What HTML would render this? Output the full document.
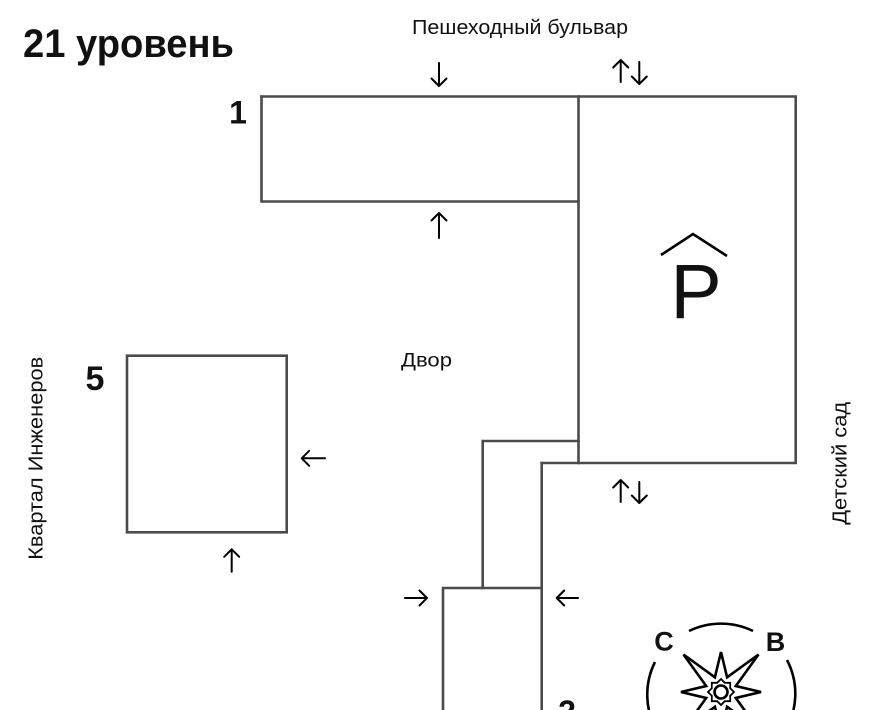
<!DOCTYPE html>
<html>
<head>
<meta charset="utf-8">
<style>
  html, body { margin: 0; padding: 0; background: #ffffff; }
  body { width: 870px; height: 710px; overflow: hidden; }
  svg { display: block; }
  .lbl { font-family: "Liberation Sans", "Noto Sans CJK SC", sans-serif; fill: #111; }
</style>
</head>
<body>
<svg width="870" height="710" viewBox="0 0 870 710" xmlns="http://www.w3.org/2000/svg">
  <rect width="870" height="710" fill="#fff"/>

  <!-- Title -->
  <text class="lbl" x="23" y="57" font-size="40" font-weight="bold" textLength="211" lengthAdjust="spacingAndGlyphs">21 уровень</text>

  <!-- Street labels -->
  <text class="lbl" x="412" y="34" font-size="20" textLength="216" lengthAdjust="spacingAndGlyphs">Пешеходный бульвар</text>
  <text class="lbl" x="401" y="366.5" font-size="19" textLength="51" lengthAdjust="spacingAndGlyphs">Двор</text>
  <text class="lbl" font-size="20" text-anchor="middle" textLength="203" lengthAdjust="spacingAndGlyphs" transform="translate(42.7,458.3) rotate(-90)">Квартал Инженеров</text>
  <text class="lbl" font-size="20" text-anchor="middle" textLength="123" lengthAdjust="spacingAndGlyphs" transform="translate(846.7,463.3) rotate(-90)">Детский сад</text>

  <!-- Building numbers -->
  <text class="lbl" x="238" y="123.3" font-size="32" font-weight="bold" text-anchor="middle">1</text>
  <text class="lbl" x="95" y="390" font-size="34" font-weight="bold" text-anchor="middle">5</text>
  <text class="lbl" x="567" y="723" font-size="32" font-weight="bold" text-anchor="middle">2</text>

  <!-- Buildings -->
  <g fill="none" stroke="#4b4b4b" stroke-width="2.6" stroke-linecap="square">
    <path d="M261.5 96.5 H795.7 V463 H541.7"/>
    <path d="M261.5 96.5 V201.5 H578.5"/>
    <path d="M578.5 96.5 V463"/>
    <path d="M578.5 441 H482.7 V588"/>
    <path d="M541.7 463 V720"/>
    <path d="M443 720 V588 H541.7"/>
    <rect x="127" y="355.7" width="159.7" height="176.6"/>
  </g>

  <!-- Parking sign -->
  <text class="lbl" x="696" y="318" font-size="77" text-anchor="middle" fill="#000">P</text>
  <polyline points="661,255 693,234 727,256" fill="none" stroke="#000" stroke-width="2.6"/>

  <!-- Arrows -->
  <g fill="none" stroke="#000" stroke-width="2" stroke-linecap="round" stroke-linejoin="round">
    <path d="M439 63 V86 M431.5 78.5 L439 86 L446.5 78.5"/>
    <path d="M620.7 82 V60 M613.2 67.5 L620.7 60 L628.2 67.5"/>
    <path d="M639.3 62 V84 M631.8 76.5 L639.3 84 L646.8 76.5"/>
    <path d="M439 238 V213 M431.5 220.5 L439 213 L446.5 220.5"/>
    <path d="M620.7 502 V480 M613.2 487.5 L620.7 480 L628.2 487.5"/>
    <path d="M639.3 482 V503 M631.8 495.5 L639.3 503 L646.8 495.5"/>
    <path d="M405 598 H427 M419.5 590.5 L427 598 L419.5 605.5"/>
    <path d="M578 598 H556.7 M564.2 590.5 L556.7 598 L564.2 605.5"/>
    <path d="M325 458.3 H301.7 M309.2 450.8 L301.7 458.3 L309.2 465.8"/>
    <path d="M231.7 571.7 V549.3 M224.2 556.8 L231.7 549.3 L239.2 556.8"/>
  </g>

  <!-- Compass -->
  <text class="lbl" x="664" y="650.7" font-size="27" font-weight="bold" text-anchor="middle" fill="#000">С</text>
  <text class="lbl" x="775.5" y="651" font-size="27" font-weight="bold" text-anchor="middle" fill="#000">В</text>
  <g fill="none" stroke="#000" stroke-width="2.6" stroke-linejoin="miter">
    <path d="M689 631 A73 73 0 0 1 753 631"/>
    <path d="M655 662 A73 73 0 0 0 657.5 732"/>
    <path d="M787 660 A73 73 0 0 1 784.5 732"/>
    <polygon points="721,652 727.1,677.3 758.5,654.5 735.8,686 761,692 735.8,698 758.5,729.5 727.1,706.8 721,732 714.9,706.8 683.5,729.5 706.2,698 681,692 706.2,686 683.5,654.5 714.9,677.3"/>
    <circle cx="721" cy="692" r="6.5"/>
  </g>
  <g fill="none" stroke="#000" stroke-width="1.8">
    <polygon points="721,679 724.8,682.8 730.2,682.8 730.2,688.2 734,692 730.2,695.8 730.2,701.2 724.8,701.2 721,705 717.2,701.2 711.8,701.2 711.8,695.8 708,692 711.8,688.2 711.8,682.8 717.2,682.8"/>
  </g>
</svg>
</body>
</html>
